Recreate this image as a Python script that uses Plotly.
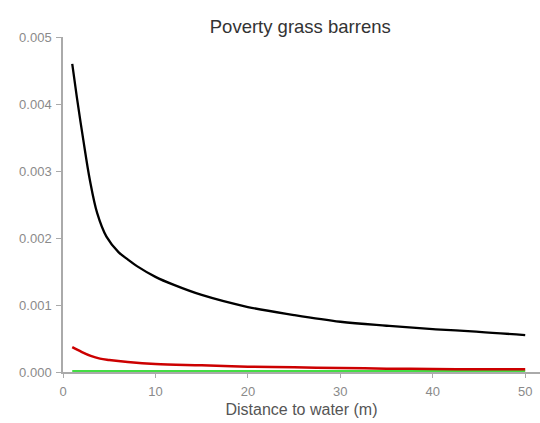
import plotly.graph_objects as go

black_x = [1, 1.5, 2.2, 2.9, 3.7, 4.7, 6, 7, 8, 10, 12, 15, 20, 25, 30, 35, 40, 45, 50]
black_y = [0.0046, 0.0041, 0.00346, 0.00287, 0.00237, 0.00202, 0.00179, 0.00168, 0.00158,
           0.00142, 0.0013, 0.00115, 0.00097, 0.00085, 0.00075, 0.00069, 0.00064, 0.0006, 0.00055]

red_x = [1, 2, 3, 4, 5, 7, 10, 15, 20, 25, 30, 35, 40, 45, 50]
red_y = [0.00037, 0.0003, 0.00024, 0.0002, 0.00018, 0.00015, 0.00012, 0.0001, 0.00008,
         0.00007, 0.00006, 0.00005, 0.000045, 0.00004, 0.00004]

green_x = [1, 10, 20, 30, 40, 50]
green_y = [0.000005, 0.000005, 0.000005, 0.000005, 0.000005, 0.000005]

x_ticks = [0, 10, 20, 30, 40, 50]
y_ticks = [0, 0.001, 0.002, 0.003, 0.004, 0.005]

fig = go.Figure()
fig.add_trace(go.Scatter(x=green_x, y=green_y, mode="lines",
                         line=dict(color="#44dd44", width=3.5), line_shape="spline"))
fig.add_trace(go.Scatter(x=red_x, y=red_y, mode="lines",
                         line=dict(color="#cc0000", width=2.5), line_shape="spline"))
fig.add_trace(go.Scatter(x=black_x, y=black_y, mode="lines",
                         line=dict(color="#000000", width=2.3), line_shape="spline"))

fig.update_layout(
    width=540, height=423,
    margin=dict(l=63, r=0, t=37, b=51),
    paper_bgcolor="white", plot_bgcolor="white",
    showlegend=False,
    font=dict(family="Liberation Sans, Arial, sans-serif", color="#8a8a8a", size=13),
    title=dict(text="Poverty grass barrens", x=0.556, xanchor="center", y=0.937, yanchor="middle",
               font=dict(size=18.5, color="#333333")),
)
fig.update_xaxes(range=[0, 51.6], tickvals=x_ticks, showgrid=False, zeroline=False,
                 showline=True, linecolor="#aaaaaa", linewidth=1.5,
                 ticks="outside", ticklen=4, tickcolor="#aaaaaa", ticklabelstandoff=3,
                 title=dict(text="Distance to water (m)", font=dict(size=16, color="#555555"), standoff=5))
fig.update_yaxes(range=[0, 0.005], tickvals=y_ticks, tickformat=".3f", showgrid=False, zeroline=False,
                 showline=True, linecolor="#aaaaaa", linewidth=1.5,
                 ticks="outside", ticklen=5, tickcolor="#aaaaaa", ticklabelstandoff=2)

fig.write_html("out.html")
